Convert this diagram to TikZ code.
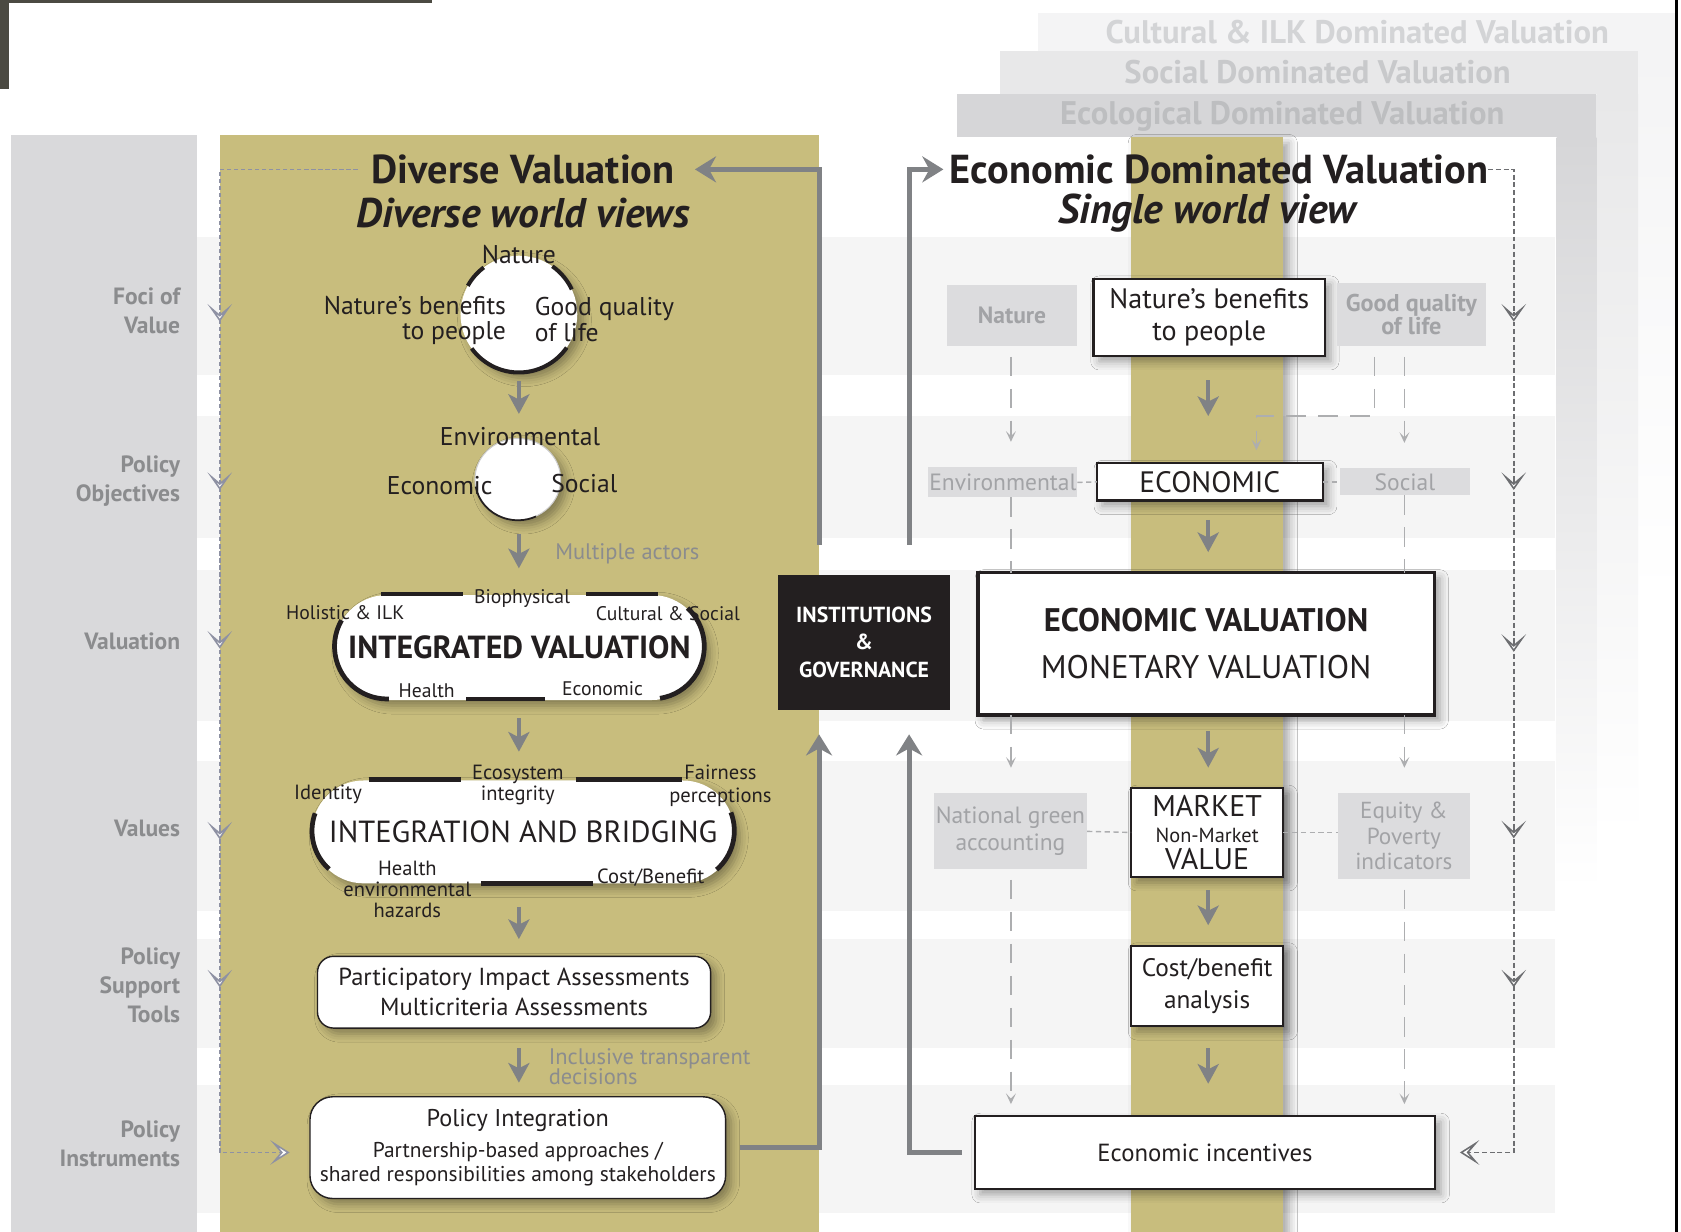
\documentclass[tikz,border=0pt]{standalone}
\usepackage{fontspec}
\setmainfont{PT Sans}
\usetikzlibrary{arrows.meta,positioning,calc,shapes.geometric,shapes.misc,shadows,shadows.blur}

\definecolor{olivefill}{HTML}{C8BD7D}
\definecolor{colgray}{HTML}{D9D9DB}
\definecolor{bandgray}{HTML}{F5F5F5}
\definecolor{boxgray}{HTML}{DCDCDE}
\definecolor{boxtext}{HTML}{A2A3A6}
\definecolor{flowgray}{HTML}{808285}
\definecolor{inkdark}{HTML}{231F20}
\definecolor{lbltext}{HTML}{8B8C8E}
\definecolor{dashblue}{HTML}{8E91A3}
\definecolor{dashgray}{HTML}{6D6E71}
\definecolor{thingray}{HTML}{ADAEB0}
\definecolor{ecofr}{HTML}{D6D6D8}
\definecolor{ecotxt}{HTML}{BDBEC0}
\definecolor{socfr}{HTML}{E8E8E9}
\definecolor{soctxt}{HTML}{C8C9CB}
\definecolor{culfr}{HTML}{F4F4F5}
\definecolor{cultxt}{HTML}{D3D4D6}
\definecolor{photo}{HTML}{4B4A42}

\newcommand\pxl[1]{#1*0.305pt}
\newcommand\fsz[2]{\fontsize{#1}{#2}\selectfont}

\tikzset{
  softshadow/.style={blur shadow={shadow xshift=1.6pt,shadow yshift=-1.6pt,shadow blur radius=2.4pt,shadow opacity=35}},
  rowlabel/.style={anchor=east,align=right,text=lbltext,font=\fsz{6.7}{8.2}\bfseries},
  frametitle/.style={font=\fsz{9.3}{10}\bfseries},
  maintitle/.style={font=\fsz{11.5}{12}\bfseries},
  subtitle/.style={font=\fsz{11.8}{12}\bfseries\itshape},
  flow/.style={draw=flowgray,line width=1.15pt,-{Stealth[length=5.6pt,width=6pt,inset=1.5pt]}},
  loopline/.style={draw=flowgray,line width=1.45pt},
  looptip/.style={-{Stealth[length=6pt,width=7.4pt,inset=2pt]}},
  ldash/.style={draw=dashblue,line width=0.45pt,dash pattern=on 1.2pt off 0.8pt},
  rdash/.style={draw=dashgray,line width=0.45pt,dash pattern=on 1.4pt off 0.8pt},
  chevron/.style={-{Stealth[length=5pt,width=7pt,inset=3pt,fill=white]}},
  endchev/.style={-{Stealth[length=5.5pt,width=7pt,inset=3pt,fill=white]}},
  thindash/.style={draw=thingray,line width=0.4pt,dash pattern=on 5.5pt off 3.6pt},
  thintip/.style={-{Stealth[length=3pt,width=2.8pt,inset=1.4pt]}},
  finedash/.style={draw=thingray,line width=0.4pt,dash pattern=on 1.5pt off 1pt},
  arcline/.style={draw=inkdark,line width=1.15pt},
  segline/.style={draw=inkdark,line width=1.35pt},
  circlabel/.style={font=\fsz{7.3}{7.2}},
  smalllabel/.style={font=\fsz{5.6}{6.1}},
  notelabel/.style={text=lbltext,anchor=west,align=left,font=\fsz{6.4}{5.9}},
  graybox/.style={fill=boxgray,text=boxtext,align=center},
  whitebox/.style={fill=white,draw=inkdark,line width=0.7pt,align=center,softshadow},
  softbox/.style={fill=white,draw=inkdark,line width=0.4pt,rounded corners=#1,align=center,softshadow},
  stadium/.style={rounded rectangle,fill=white,softshadow},
}

\begin{document}
\begin{tikzpicture}[x=0.010721cm,y=-0.010721cm,inner sep=0pt,outer sep=0pt,text=inkdark]
  \fill[white] (0,0) rectangle (1568,1149);
  \useasboundingbox (0,0) rectangle (1568,1149);
  % leftover of the page photo
  \fill[photo] (0,0) rectangle (403,3);
  \fill[photo] (0,0) rectangle (8,83);
  % stacked valuation frames
  \fill[culfr] (968,12) rectangle (1562,48);
  \shade[top color=culfr,bottom color=white] (1528,48) rectangle (1562,560);
  \fill[socfr] (933,48) rectangle (1528,88);
  \shade[top color=socfr,bottom color=white] (1489,88) rectangle (1528,780);
  \fill[ecofr] (893,88) rectangle (1489,128);
  \shade[top color=ecofr,bottom color=white] (1452,128) rectangle (1489,830);
  \node[frametitle,text=cultxt] (cultt) at (1266,30) {Cultural \& ILK Dominated Valuation};
  \node[frametitle,text=soctxt] (soctt) at (1229,67) {Social Dominated Valuation};
  \node[frametitle,text=ecotxt] (ecott) at (1196,109) {Ecological Dominated Valuation};
  % row bands and columns
  \foreach \ya/\yb in {221/350,388/502,532/673,710/850,876/978,1012/1131}
    \fill[bandgray] (184,\ya) rectangle (1450,\yb);
  \fill[colgray] (10,126) rectangle (184,1149);
  \fill[olivefill] (205,126) rectangle (764,1149);
  \fill[olivefill,softshadow] (1055,128) rectangle (1197,1149);
  \draw[black,line width=0.7pt] (1564,0) -- (1564,1149);

  % row labels
  \node[rowlabel] (rfoci) at (168,290) {Foci of\\Value};
  \node[rowlabel] (robj) at (168,449) {Policy\\Objectives};
  \node[rowlabel] (rval) at (168,598) {Valuation};
  \node[rowlabel] (rvalues) at (168,773) {Values};
  \node[rowlabel] (rtools) at (168,919) {Policy\\Support\\Tools};
  \node[rowlabel] (rinstr) at (168,1067) {Policy\\Instruments};

  % titles
  \node[maintitle] (dvtitle) at (488,158) {Diverse Valuation};
  \node[subtitle] (dvsub) at (488,199) {Diverse world views};
  \node[maintitle] (edtitle) at (1137,158) {Economic Dominated Valuation};
  \node[subtitle] (edsub) at (1126,199) {Single world view};

  % diverse valuation side
  \node[circle,fill=white,minimum size=\pxl{109},softshadow] (foci) at (484,293) {};
  \draw[arcline] (foci.127) arc[start angle=127,end angle=151,radius=\pxl{54.5}];
  \draw[arcline] (foci.25) arc[start angle=25,end angle=55,radius=\pxl{54.5}];
  \draw[arcline] (foci.216) arc[start angle=216,end angle=325,radius=\pxl{54.5}];
  \node[circlabel] (lnat) at (484,237) {Nature};
  \node[circlabel,align=right,anchor=east] (lnbp) at (472,299) {Nature's benefits\\to people};
  \node[circlabel,align=left,anchor=west] (lgql) at (499,298) {Good quality\\of life};

  \node[ellipse,fill=white,draw=black!20,line width=0.3pt,minimum width=\pxl{80},minimum height=\pxl{76},softshadow] (obj) at (483,447) {};
  \draw[inkdark,line width=0.5pt] (obj.190) arc[start angle=190,end angle=295,x radius=\pxl{40},y radius=\pxl{38}];
  \node[circlabel] (lenv) at (485,407) {Environmental};
  \node[circlabel] (lecn) at (410,453) {Economic};
  \node[circlabel] (lsoc) at (545,451) {Social};
  \node[notelabel] (lmult) at (518,517) {Multiple actors};

  \node[stadium,minimum width=\pxl{345},minimum height=\pxl{98},font=\fsz{9.1}{9}\bfseries] (intval) at (484.5,604) {INTEGRATED VALUATION};
  \coordinate (s1l) at (361,603);
  \coordinate (s1r) at (608,603);
  \draw[segline] (s1l) ++(150:\pxl{49}) arc[start angle=150,end angle=272,radius=\pxl{49}];
  \draw[segline] (s1r) ++(-81:\pxl{49}) arc[start angle=-81,end angle=47,radius=\pxl{49}];
  \draw[segline] (355,554) -- (432,554);
  \draw[segline] (547,554) -- (614,554);
  \draw[segline] (435,652) -- (508,652);
  \node[smalllabel] (s1hol) at (322,571) {Holistic \& ILK};
  \node[smalllabel] (s1bio) at (487,558) {Biophysical};
  \node[smalllabel] (s1cul) at (623,572) {Cultural \& Social};
  \node[smalllabel] (s1hea) at (398,644) {Health};
  \node[smalllabel] (s1eco) at (562,642) {Economic};

  \node[stadium,minimum width=\pxl{394},minimum height=\pxl{96},font=\fsz{8.7}{9}] (intbr) at (488,776) {INTEGRATION AND BRIDGING};
  \coordinate (s2l) at (339,775);
  \coordinate (s2r) at (637,775);
  \draw[segline] (s2l) ++(160:\pxl{48}) arc[start angle=160,end angle=228,radius=\pxl{48}];
  \draw[segline] (s2r) ++(-49:\pxl{48}) arc[start angle=-49,end angle=21,radius=\pxl{48}];
  \draw[segline] (344,727) -- (430,727);
  \draw[segline] (537,727) -- (636,727);
  \draw[segline] (449,824) -- (553,824);
  \node[smalllabel,align=center,font=\fsz{5.85}{6.1}] (s2eco) at (483,732) {Ecosystem\\integrity};
  \node[smalllabel,font=\fsz{5.85}{6.1}] (s2ide) at (306,741) {Identity};
  \node[smalllabel,align=center,font=\fsz{5.85}{6.3}] (s2fai) at (672,733) {Fairness\\perceptions};
  \node[smalllabel,align=center,font=\fsz{5.85}{5.95}] (s2hea) at (380,830) {Health\\environmental\\hazards};
  \node[smalllabel,font=\fsz{5.85}{6.1}] (s2cba) at (607,819) {Cost/Benefit};

  \node[softbox=4.6pt,minimum width=\pxl{367},minimum height=\pxl{67},font=\fsz{7}{8.5}] (pia) at (479.5,925.5) {Participatory Impact Assessments\\Multicriteria Assessments};
  \node[notelabel] (lincl) at (512,995) {Inclusive transparent\\decisions};
  \node[softbox=6.5pt,minimum width=\pxl{388},minimum height=\pxl{95},font=\fsz{6.9}{6.7}] (polint) at (483,1070.5)
    {Policy Integration\\[2.1pt]{\fsz{6.1}{6.7}Partnership-based approaches /}\\{\fsz{6.1}{6.7}shared responsibilities among stakeholders}};

  \node[fill=inkdark,text=white,minimum width=\pxl{160},minimum height=\pxl{126},align=center,font=\fsz{6.2}{7.9}\bfseries] (inst) at (806,599) {INSTITUTIONS\\\&\\GOVERNANCE};

  % economic dominated side
  \node[graybox,minimum width=\pxl{122},minimum height=\pxl{57},font=\fsz{6.7}{7}\bfseries] (natR) at (944,294.5) {Nature};
  \node[whitebox,minimum width=\pxl{216},minimum height=\pxl{72},font=\fsz{8}{9.1}] (nbpR) at (1128,296) {Nature's benefits\\to people};
  \node[graybox,minimum width=\pxl{139},minimum height=\pxl{59},font=\fsz{6.9}{6.7}\bfseries] (gqlR) at (1316.5,293.5) {Good quality\\of life};
  \node[graybox,minimum width=\pxl{139},minimum height=\pxl{28},font=\fsz{6.7}{7}] (envR) at (935.5,450) {Environmental};
  \node[whitebox,minimum width=\pxl{211},minimum height=\pxl{35},font=\fsz{8.4}{9}] (ecoR) at (1128.5,449.5) {ECONOMIC};
  \node[graybox,minimum width=\pxl{121},minimum height=\pxl{25},font=\fsz{6.7}{7}] (socR) at (1310.5,449.5) {Social};
  \node[whitebox,line width=1pt,minimum width=\pxl{426},minimum height=\pxl{133},font=\fsz{9.3}{13.4}] (evalR) at (1125,600.5) {{\bfseries ECONOMIC VALUATION}\\MONETARY VALUATION};
  \node[graybox,minimum width=\pxl{143},minimum height=\pxl{71},font=\fsz{6.7}{7.6}] (ngaR) at (942.5,775.5) {National green\\accounting};
  \node[whitebox,line width=0.6pt,minimum width=\pxl{142},minimum height=\pxl{83},font=\fsz{8.5}{7.6}] (mktR) at (1126,776.5) {MARKET\\{\fsz{5.8}{7.6}Non-Market}\\VALUE};
  \node[graybox,minimum width=\pxl{123},minimum height=\pxl{80},font=\fsz{6.6}{7.3}] (eqR) at (1309.5,780) {Equity \&\\Poverty\\indicators};
  \node[whitebox,line width=0.6pt,minimum width=\pxl{142},minimum height=\pxl{75},font=\fsz{7.2}{9.1}] (cbaR) at (1126,919.5) {Cost/benefit\\analysis};
  \node[whitebox,line width=0.6pt,minimum width=\pxl{430},minimum height=\pxl{68},font=\fsz{7.05}{8}] (eciR) at (1124,1075) {Economic incentives};

  % flow arrows
  \coordinate (lx) at (484,0);
  \coordinate (rx) at (1127,0);
  \draw[flow,shorten <=2.4pt,shorten >=7pt] (lx |- foci.south) -- (lx |- obj.north);
  \draw[flow,shorten <=4pt,shorten >=7.6pt] (lx |- obj.south) -- (lx |- intval.north);
  \draw[flow,shorten <=5.2pt,shorten >=8.2pt] (lx |- intval.south) -- (lx |- intbr.north);
  \draw[flow,shorten <=6.7pt,shorten >=4.9pt] (lx |- intbr.south) -- (lx |- pia.north);
  \draw[flow,shorten <=5.8pt,shorten >=4pt] (lx |- pia.south) -- (lx |- polint.north);
  \draw[flow,shorten <=7pt,shorten >=13.4pt] (rx |- nbpR.south) -- (rx |- ecoR.north);
  \draw[flow,shorten <=5.5pt,shorten >=5.8pt] (rx |- ecoR.south) -- (rx |- evalR.north);
  \draw[flow,shorten <=4.6pt,shorten >=5.8pt] (rx |- evalR.south) -- (rx |- mktR.north);
  \draw[flow,shorten <=3.7pt,shorten >=5.8pt] (rx |- mktR.south) -- (rx |- cbaR.north);
  \draw[flow,shorten <=6.4pt,shorten >=9.2pt] (rx |- cbaR.south) -- (rx |- eciR.north);

  % thin dashed side links
  \coordinate (nx) at (943,0);
  \coordinate (sx) at (1310,0);
  \coordinate (gx) at (1282,0);
  \coordinate (jog) at (1172,388);
  \draw[thindash,thintip,shorten <=3pt,shorten >=7.3pt] (nx |- natR.south) -- (nx |- envR.north);
  \draw[thindash] (nx |- envR.south) -- (nx |- evalR.north);
  \draw[thindash,thintip,shorten >=7.3pt] (nx |- evalR.south) -- (nx |- ngaR.north);
  \draw[thindash,thintip,shorten <=3pt,shorten >=3.4pt] (nx |- ngaR.south) -- (nx |- eciR.north);
  \draw[thindash,thintip,shorten <=3pt,shorten >=7.3pt] (sx |- gqlR.south) -- (sx |- socR.north);
  \draw[thindash] (sx |- socR.south) -- (sx |- evalR.north);
  \draw[thindash,thintip,shorten >=7.3pt] (sx |- evalR.south) -- (sx |- eqR.north);
  \draw[thindash,thintip,shorten <=3pt,shorten >=3.4pt] (sx |- eqR.south) -- (sx |- eciR.north);
  \draw[thindash,thintip,shorten <=3pt,shorten >=3.7pt] (gx |- gqlR.south) |- (jog) -- (jog |- ecoR.north);
  \draw[finedash] (envR.east) -- (ecoR.west);
  \draw[finedash] (ecoR.east) -- (socR.west);
  \draw[finedash] (ngaR.east) -- (mktR.west);
  \draw[finedash] (mktR.east) -- (mktR.east -| eqR.west);

  % loops through institutions
  \coordinate (lrise) at (764,508);
  \coordinate (rrise) at (848,508);
  \coordinate (lland) at (764,685);
  \coordinate (rland) at (848,685);
  \draw[loopline,looptip,shorten >=5.8pt] (lrise) |- (dvtitle.east);
  \draw[loopline,looptip] ([xshift=4pt]polint.east) -| (lland);
  \draw[loopline,looptip] ([xshift=-3.7pt]eciR.west) -| (rland);
  \draw[loopline,looptip,shorten >=1.8pt] (rrise) |- (edtitle.west);

  % outer dashed feedback
  \coordinate (lcorner) at (205,1075);
  \coordinate (rcorner) at (1412,1075);
  \draw[ldash,endchev,shorten >=5.8pt] ([xshift=-4pt]dvtitle.west) -| (lcorner) -- (lcorner -| polint.west);
  \draw[rdash,endchev,shorten >=7pt] (edtitle.east) -| (rcorner) -- (rcorner -| eciR.east);
  \foreach \yy in {293,450,598,776,914}
    \draw[ldash,solid,chevron] (205,\yy-2) -- (205,\yy+7);
  \foreach \yy in {293,450,601,775,914}
    \draw[rdash,solid,chevron] (1412,\yy-2) -- (1412,\yy+7);
\end{tikzpicture}
\end{document}
